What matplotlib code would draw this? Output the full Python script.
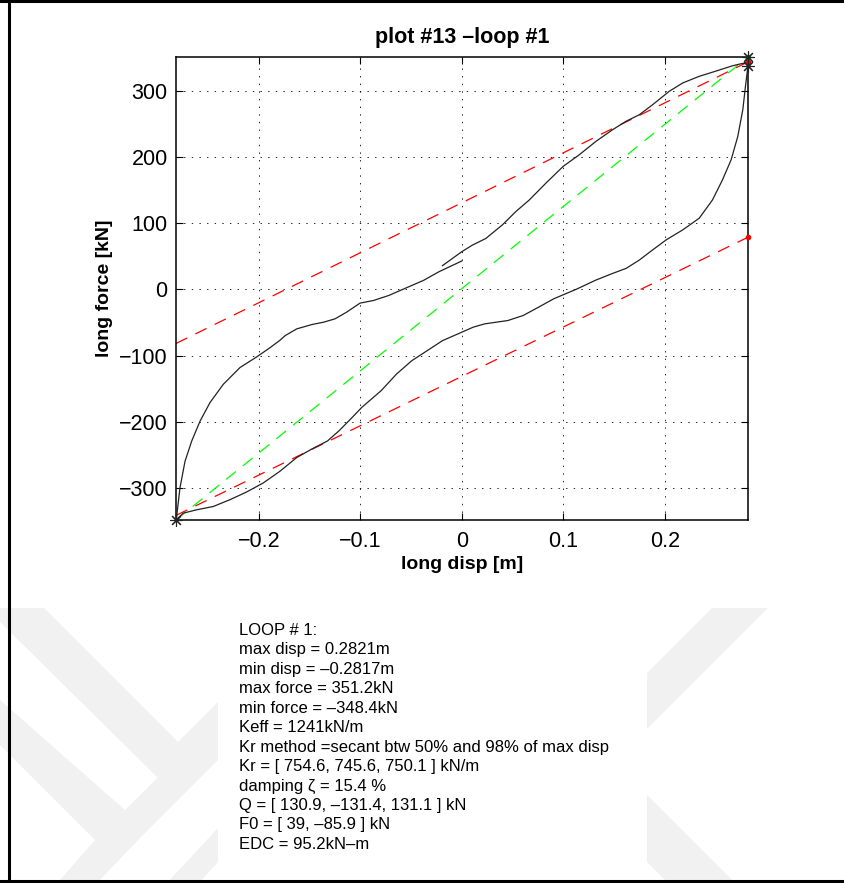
import matplotlib
matplotlib.use("Agg")
import matplotlib.pyplot as plt
import numpy as np
from matplotlib.patches import Polygon, Rectangle
from matplotlib.lines import Line2D

plt.rcParams['font.family'] = ['Liberation Sans', 'DejaVu Sans']
plt.rcParams['lines.scale_dashes'] = False

# loop summary values
max_disp = 0.2821
min_disp = -0.2817
max_force = 351.2
min_force = -348.4
Keff = 1241
Kr = [754.6, 745.6, 750.1]
Q = [130.9, -131.4, 131.1]
F0 = [39, -85.9]
damping = 15.4
EDC = 95.2
force_at_max_disp = 338.0

# measured loop (disp [m], force [kN])
loop_disp = [-0.019, 0.0, 0.0105, 0.0237, 0.040, 0.0533, 0.0664, 0.0829, 0.100,
             0.1158, 0.1322, 0.1487, 0.1618, 0.175, 0.188, 0.2046, 0.2178, 0.234,
             0.2507, 0.267, 0.2753, 0.280, 0.2821, 0.2821, 0.2796, 0.277, 0.272,
             0.2655, 0.257, 0.247, 0.234, 0.2178, 0.2013, 0.188, 0.175, 0.162,
             0.1487, 0.132, 0.1125, 0.0908, 0.0757, 0.0605, 0.0454, 0.034, 0.0227,
             0.0113, 0.0, -0.0189, -0.034, -0.0492, -0.0643, -0.0795, -0.0984,
             -0.1097, -0.121, -0.1324, -0.1476, -0.1627, -0.1792, -0.1957, -0.212,
             -0.2285, -0.245, -0.2613, -0.2745, -0.2817, -0.2812, -0.2778, -0.2728,
             -0.2662, -0.258, -0.2482, -0.2351, -0.2186, -0.2022, -0.189, -0.1792,
             -0.174, -0.1627, -0.1476, -0.1362, -0.1249, -0.1135, -0.1003, -0.087,
             -0.0719, -0.0568, -0.0378, -0.0224, 0.0]
loop_force = [36.0, 57.0, 67.0, 77.0, 97.5, 117.7, 135.0, 160.6, 186.0,
              203.5, 223.7, 241.4, 254.0, 264.0, 279.0, 299.5, 312.0, 322.0,
              330.0, 338.0, 341.0, 342.0, 351.2, 338.0, 307.0, 271.7, 231.0,
              196.0, 165.7, 135.0, 107.6, 90.0, 74.7, 59.6, 44.4, 31.8,
              24.2, 14.0, 0.0, -14.0, -26.8, -39.4, -47.0, -49.5, -52.0,
              -57.0, -64.6, -77.3, -92.4, -107.6, -127.8, -153.0, -178.0,
              -196.0, -213.6, -229.0, -241.0, -254.0, -274.7, -292.4, -306.0,
              -317.7, -328.0, -333.0, -338.0, -348.4, -345.0, -300.0, -259.6,
              -229.0, -199.0, -171.0, -143.4, -118.0, -102.0, -88.0, -76.8,
              -69.7, -59.6, -53.0, -49.5, -44.4, -34.3, -20.7, -16.7,
              -9.1, 1.0, 13.6, 26.8, 43.0]

info_lines = [
    "LOOP # 1:",
    "max disp = %.4fm" % max_disp,
    "min disp = \u2013%.4fm" % abs(min_disp),
    "max force = %.1fkN" % max_force,
    "min force = \u2013%.1fkN" % abs(min_force),
    "Keff = %dkN/m" % Keff,
    "Kr method =secant btw 50% and 98% of max disp",
    "Kr = [ %.1f, %.1f, %.1f ] kN/m" % tuple(Kr),
    "damping \u03b6 = %.1f %%" % damping,
    "Q = [ %.1f, \u2013%.1f, %.1f ] kN" % (Q[0], abs(Q[1]), Q[2]),
    "F0 = [ %g, \u2013%.1f ] kN" % (F0[0], abs(F0[1])),
    "EDC = %.1fkN\u2013m" % EDC,
]

W, H = 844, 883
fig = plt.figure(figsize=(W / 100, H / 100), dpi=100)


def px(x, y):
    return (x / W, 1 - y / H)


# faint background stripes (page watermark), lower part of the page
wm_color = '#f1f1f1'
stripes = [
    [(0, 608), (44, 608), (178, 742), (150, 770), (0, 622)],
    [(150, 770), (178, 742), (218, 702), (218, 742), (170, 790)],
    [(0, 700), (0, 745), (95, 840), (125, 810)],
    [(95, 840), (125, 810), (218, 718), (218, 760), (140, 838), (100, 880), (60, 880)],
    [(218, 828), (218, 862), (200, 882), (168, 882)],
    [(712, 608), (768, 608), (647, 729), (647, 673)],
    [(647, 795), (647, 862), (667, 882), (734, 882)],
]
for s in stripes:
    fig.add_artist(Polygon([px(*p) for p in s], closed=True, transform=fig.transFigure,
                           facecolor=wm_color, edgecolor='none', zorder=-3))

ax = fig.add_axes([176 / W, 1 - 520 / H, (748 - 176) / W, (520 - 57) / H])

# hysteresis loop
ax.plot(loop_disp, loop_force, color='#222222', lw=0.9, zorder=3)

xs = np.array([min_disp, max_disp])
# effective stiffness secant
ax.plot(xs, [min_force, max_force], color=(0, 1, 0), lw=0.9, dashes=(9, 6.5), zorder=2)
# post-yield lines
ax.plot(xs, Q[0] + Kr[0] * xs, color=(1, 0, 0), lw=0.9, dashes=(9, 6.5), zorder=2)
ax.plot(xs, Q[1] + Kr[1] * xs, color=(1, 0, 0), lw=0.9, dashes=(9, 6.5), zorder=2)

ax.plot([max_disp], [Q[0] + Kr[0] * max_disp], '.', color='red', ms=6, zorder=4, clip_on=False)
ax.plot([max_disp], [Q[1] + Kr[1] * max_disp], '.', color='red', ms=6, zorder=4, clip_on=False)
ax.plot([max_disp], [max_force], '.', color=(0, 0.8, 0), ms=6, zorder=4, clip_on=False)
ax.plot([max_disp, max_disp, min_disp], [max_force, force_at_max_disp, min_force],
        ls='none', marker=(8, 2, 0), color='#222222', ms=9, mew=0.8, zorder=5, clip_on=False)

ax.set_xlim(min_disp, max_disp)
ax.set_ylim(min_force, max_force)
ax.set_xticks([-0.2, -0.1, 0, 0.1, 0.2])
ax.set_xticklabels(['\u22120.2', '\u22120.1', '0', '0.1', '0.2'])
ax.set_yticks([-300, -200, -100, 0, 100, 200, 300])
ax.set_yticklabels(['\u2212300', '\u2212200', '\u2212100', '0', '100', '200', '300'])
ax.tick_params(direction='in', top=True, right=True, length=5, width=0.8,
               labelsize=15.5, pad=6)
ax.tick_params(axis='x', pad=8)
ax.grid(True, color='black', lw=0.6, dashes=(1, 4.5))
for sp in ax.spines.values():
    sp.set_linewidth(1.1)

ax.set_title("plot #13 \u2013loop #1", fontsize=15.5, fontweight='bold', pad=10)
ax.set_xlabel("long disp [m]", fontsize=14, fontweight='bold', labelpad=3)
ax.set_ylabel("long force [kN]", fontsize=14, fontweight='bold', labelpad=4)

# summary text panel
fig.add_artist(Rectangle(px(218, 863), (647 - 218) / W, (863 - 615) / H,
                         transform=fig.transFigure, facecolor='white',
                         edgecolor='none', zorder=-2))
for i, line in enumerate(info_lines):
    fig.text(239 / W, 1 - (635 + i * 19.45) / H, line, fontsize=12,
             va='baseline', ha='left')

# page frame
for seg in [((8.5, 0), (8.5, 880.5)), ((0, 880.5), (844, 880.5)), ((0, 0.5), (844, 0.5))]:
    (x1, y1), (x2, y2) = seg
    fig.add_artist(Line2D([x1 / W, x2 / W], [1 - y1 / H, 1 - y2 / H],
                          transform=fig.transFigure, color='black', lw=2.2))

fig.savefig("out.png", dpi=100)
